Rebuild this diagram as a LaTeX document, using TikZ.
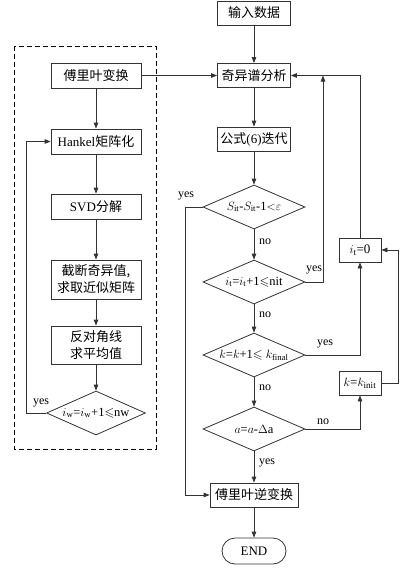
\documentclass[tikz,border=0pt]{standalone}
\usepackage{fontspec}
\usepackage{amssymb}
\setmainfont{Liberation Serif}
\newfontfamily\cjk{Noto Sans CJK SC}
\usetikzlibrary{arrows.meta,shapes.geometric,shapes.misc}
\begin{document}
\begin{tikzpicture}[x=1pt,y=-1pt,
 box/.style={draw=black!80, line width=0.8pt, minimum width=73pt, minimum height=24pt, inner sep=1pt, font=\fontsize{13}{15}\selectfont, align=center},
 dia/.style={draw=black!80, diamond, line width=0.8pt, minimum width=102pt, minimum height=44pt, inner sep=0pt, aspect=2.3, font=\fontsize{12.5}{14}\selectfont},
 lbl/.style={font=\fontsize{12}{14}\selectfont, inner sep=0pt},
 arr/.style={-{Triangle[length=6pt,width=4.5pt]}, line width=0.8pt, draw=black!80},
 ln/.style={line width=0.8pt, draw=black!80}]
\useasboundingbox (0,0) rectangle (408,573);
% dashed frame
\draw[line width=0.8pt, dash pattern=on 5pt off 3pt] (14,46) rectangle (156,449);
% right column
\node[box] (in) at (254,13) {\cjk 输入数据};
\node[box] (ssa) at (254,75.5) {\cjk 奇异谱分析};
\node[box] (f6) at (254,139) {{\cjk 公式}(6){\cjk 迭代}};
\node[dia] (d1) at (254,207) {$S_{\mathrm{it}}$-$S_{\mathrm{it}}$-1${<}\varepsilon$};
\node[dia] (d2) at (254,282) {$i_{\mathrm{t}}$=$i_{\mathrm{t}}$+1$\leqslant$nit};
\node[dia] (d3) at (254,355) {$k$=$k$+1$\leqslant k_{\mathrm{final}}$};
\node[dia] (d4) at (254,429) {$a$=$a$-$\Delta$a};
\node[box, minimum width=88pt] (ift) at (254,495) {\cjk 傅里叶逆变换};
\node[box, rounded rectangle, minimum width=66pt, minimum height=26pt] (end) at (254,551) {END};
\node[box, minimum width=42pt] (it0) at (360,250) {$i_{\mathrm{t}}$=0};
\node[box, minimum width=42pt] (kin) at (360,383) {$k$=$k_{\mathrm{init}}$};
% left column
\node[box, minimum width=90pt, minimum height=25pt] (ft) at (96,75.5) {\cjk 傅里叶变换};
\node[box, minimum width=90pt, minimum height=25pt] (hk) at (96,141.5) {Hankel{\cjk 矩阵化}};
\node[box, minimum width=90pt, minimum height=25pt] (svd) at (96,206.5) {SVD{\cjk 分解}};
\node[box, minimum width=90pt, minimum height=39pt, font=\fontsize{13}{17}\selectfont] (tr) at (96,279.5) {\cjk 截断奇异值,\\\cjk 求取近似矩阵};
\node[box, minimum width=90pt, minimum height=38pt, font=\fontsize{13}{17}\selectfont] (an) at (96,345) {\cjk 反对角线\\\cjk 求平均值};
\node[dia, minimum width=99pt] (dw) at (96,413) {$i_{\mathrm{w}}$=$i_{\mathrm{w}}$+1$\leqslant$nw};
% coordinates
\coordinate (c1) at (323,75.5);
\coordinate (c2) at (398,383);
\coordinate (c3) at (185,207);
\coordinate (c4) at (26,413);
% main flow
\draw[arr] (in) -- (ssa);
\draw[arr] (ssa) -- (f6);
\draw[arr] (f6) -- (d1);
\draw[arr] (d1) -- (d2);
\draw[arr] (d2) -- (d3);
\draw[arr] (d3) -- (d4);
\draw[arr] (d4) -- (ift);
\draw[arr] (ift) -- (end);
\draw[arr] (ft) -- (ssa);
\draw[arr] (ft) -- (hk);
\draw[arr] (hk) -- (svd);
\draw[arr] (svd) -- (tr);
\draw[arr] (tr) -- (an);
\draw[arr] (an) -- (dw);
% loops
\draw[arr] (dw.west) -- (c4) |- (hk.west);
\draw[arr] (d1.west) -- (c3) |- (ift.west);
\draw[arr] (d2.east) -| (c1);
\draw[arr] (it0.north) |- (ssa.east);
\draw[arr] (d3.east) -| (it0.south);
\draw[arr] (d4.east) -| (kin.south);
\draw[arr] (kin.east) -- (c2) |- (it0.east);
% labels
\node[lbl] (l1) at (186,196) {yes};
\node[lbl] (l2) at (265,242) {no};
\node[lbl] (l3) at (314,270) {yes};
\node[lbl] (l4) at (265,315) {no};
\node[lbl] (l5) at (325,344) {yes};
\node[lbl] (l6) at (265,388) {no};
\node[lbl] (l7) at (323,422) {no};
\node[lbl] (l8) at (267,463) {yes};
\node[lbl] (l9) at (41,403) {yes};
\end{tikzpicture}
\end{document}
